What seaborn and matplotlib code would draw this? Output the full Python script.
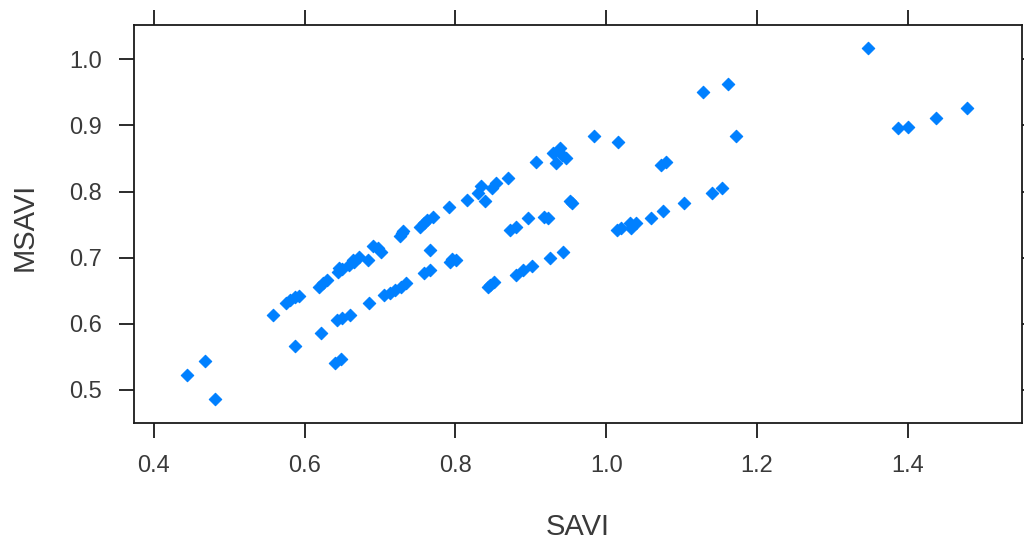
import matplotlib
matplotlib.use("Agg")
import matplotlib.pyplot as plt
import seaborn as sns
import pandas as pd

# Vegetation index pairs
savi = [
    0.444, 0.468, 0.481, 0.558, 0.575, 0.581, 0.588, 0.593, 0.619, 0.625,
    0.630, 0.644, 0.650, 0.646, 0.659, 0.665, 0.672, 0.664, 0.684, 0.691,
    0.697, 0.702, 0.726, 0.729, 0.731, 0.753, 0.758, 0.762, 0.771, 0.792,
    0.816, 0.830, 0.834, 0.839, 0.848, 0.854, 0.870, 0.907, 0.930, 0.939,
    0.947, 0.934, 0.942, 0.984, 1.016, 1.073, 1.080, 1.128, 1.161, 1.172,
    1.347, 1.387, 1.400, 1.438, 1.478,
    0.588, 0.622, 0.643, 0.650, 0.660, 0.640, 0.648, 0.686, 0.706, 0.713,
    0.720, 0.728, 0.735, 0.759, 0.766, 0.766, 0.793, 0.801, 0.796, 0.843,
    0.851, 0.846, 0.872, 0.881, 0.881, 0.890, 0.901, 0.896, 0.918, 0.923,
    0.925, 0.943, 0.952, 0.955, 1.014, 1.020, 1.031, 1.040, 1.033, 1.060,
    1.076, 1.103, 1.140, 1.154,
]
msavi = [
    0.523, 0.544, 0.486, 0.614, 0.631, 0.636, 0.640, 0.642, 0.656, 0.662,
    0.666, 0.679, 0.683, 0.684, 0.689, 0.694, 0.701, 0.697, 0.697, 0.717,
    0.715, 0.709, 0.732, 0.737, 0.740, 0.747, 0.752, 0.757, 0.762, 0.777,
    0.787, 0.798, 0.808, 0.785, 0.805, 0.813, 0.820, 0.844, 0.858, 0.866,
    0.850, 0.843, 0.855, 0.884, 0.875, 0.840, 0.845, 0.951, 0.963, 0.884,
    1.017, 0.896, 0.898, 0.911, 0.926,
    0.566, 0.586, 0.605, 0.609, 0.614, 0.541, 0.547, 0.632, 0.644, 0.647,
    0.651, 0.656, 0.662, 0.677, 0.682, 0.711, 0.694, 0.697, 0.698, 0.656,
    0.663, 0.659, 0.742, 0.746, 0.674, 0.681, 0.688, 0.760, 0.762, 0.760,
    0.699, 0.708, 0.785, 0.783, 0.742, 0.745, 0.752, 0.753, 0.745, 0.760,
    0.771, 0.783, 0.798, 0.805,
]
x_ticks = [0.4, 0.6, 0.8, 1.0, 1.2, 1.4]
y_ticks = [0.5, 0.6, 0.7, 0.8, 0.9, 1.0]

df = pd.DataFrame({"SAVI": savi, "MSAVI": msavi})

sns.set_style("white")
plt.rcParams["font.family"] = ["Liberation Sans", "DejaVu Sans"]

fig = plt.figure(figsize=(10.24, 5.4), dpi=100)
ax = fig.add_axes([0.1306, 0.2167, 0.8671, 0.7376])

sns.scatterplot(data=df, x="SAVI", y="MSAVI", ax=ax, marker="D", s=40,
                color="#0080ff", edgecolor="#0080ff", linewidth=0.8, legend=False)

ax.set_xlim(0.3735, 1.551)
ax.set_ylim(0.450, 1.0523)
ax.set_xticks(x_ticks)
ax.set_yticks(y_ticks)
ax.set_xticklabels([f"{t:.1f}" for t in x_ticks])
ax.set_yticklabels([f"{t:.1f}" for t in y_ticks])

for sp in ax.spines.values():
    sp.set_visible(True)
    sp.set_color("#1a1a1a")
    sp.set_linewidth(1.3)

ax.tick_params(axis="both", which="both", direction="out", length=11,
               width=1.3, color="#1a1a1a", labelsize=17, labelcolor="#3a3a3a",
               pad=12, top=True, right=True, labeltop=False, labelright=False,
               bottom=True, left=True)

# lattice-style axis titles sit well away from the panel
ax.set_xlabel("SAVI", fontsize=21, color="#3a3a3a", va="center")
ax.xaxis.set_label_coords(0.5, -0.262)
ax.set_ylabel("MSAVI", fontsize=21, color="#3a3a3a", ha="center", va="center")
ax.yaxis.set_label_coords(-0.1225, 0.492)

fig.savefig("out.png", dpi=100)
